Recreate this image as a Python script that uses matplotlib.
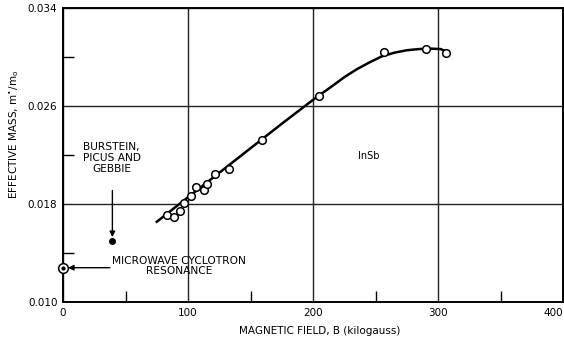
import matplotlib
matplotlib.use("Agg")
import matplotlib.pyplot as plt

# Measured data (InSb effective mass vs magnetic field)
field_kG = [82.8, 89.0, 93.2, 96.4, 102.4, 106.6, 112.5, 115.4, 121.6, 132.5,
            159.0, 204.6, 256.8, 290.2, 306.5]
mass = [0.01708, 0.01694, 0.01745, 0.01806, 0.01865, 0.01941, 0.01912, 0.01961,
        0.02042, 0.02088, 0.02325, 0.02679, 0.03038, 0.03065, 0.03033]

# Hand-drawn fit curve
curve_x = [75, 100, 125, 150, 175, 200, 215, 225, 235, 245, 255, 265, 275, 285, 295, 302, 307]
curve_y = [0.01655, 0.01855, 0.02055, 0.02255, 0.02455, 0.02650, 0.02760, 0.02835,
           0.02900, 0.02955, 0.03005, 0.03035, 0.03055, 0.03065, 0.03068, 0.03065, 0.03045]

# Other measurements
bpg_x, bpg_y = [39.0], [0.0150]
mw_x, mw_y = [0.0], [0.0128]

x_major = [0, 100, 200, 300, 400]
x_minor = [50, 150, 250, 350]
y_major = [0.010, 0.018, 0.026, 0.034]
y_minor = [0.014, 0.022, 0.030]
y_labels = ["0.010", "0.018", "0.026", "0.034"]

plt.rcParams['font.family'] = ['DejaVu Sans']
fig = plt.figure(figsize=(5.64, 3.41), dpi=100)
ax = fig.add_axes([63/564, 1-302/341, 500/564, 294/341])
ax.set_xlim(0, 400)
ax.set_ylim(0.010, 0.034)

ax.set_xticks(x_major)
ax.set_xticklabels([str(v) for v in x_major], fontsize=7.5)
ax.set_yticks(y_major)
ax.set_yticklabels(y_labels, fontsize=7.5)
ax.set_xticks(x_minor, minor=True)
ax.set_yticks(y_minor, minor=True)
ax.tick_params(which='major', length=0, pad=4)
ax.tick_params(which='minor', direction='in', length=8, width=1.0, color='black')
ax.grid(True, which='major', color='#222222', linewidth=1.0)
for s in ax.spines.values():
    s.set_linewidth(1.4)

# last x tick label sits just inside the figure edge
ax.get_xticklabels()[-1].set_horizontalalignment('right')

ax.plot(curve_x, curve_y, color='black', linewidth=1.8, zorder=3)
ax.plot(field_kG, mass, linestyle='none', marker='o', markersize=5.5,
        markerfacecolor='white', markeredgecolor='black', markeredgewidth=1.1, zorder=4)
ax.plot(bpg_x, bpg_y, linestyle='none', marker='o', markersize=4,
        color='black', zorder=4)
ax.plot(mw_x, mw_y, linestyle='none', marker='o', markersize=7,
        markerfacecolor='white', markeredgecolor='black', markeredgewidth=1.1,
        zorder=5, clip_on=False)
ax.plot(mw_x, mw_y, linestyle='none', marker='o', markersize=2,
        color='black', zorder=6, clip_on=False)

ax.annotate('', xy=(39.5, 0.0153), xytext=(39.5, 0.0191),
            arrowprops=dict(arrowstyle='-|>', color='black', lw=1.0,
                            mutation_scale=8, shrinkA=0, shrinkB=0))
ax.annotate('', xy=(4.0, 0.0128), xytext=(37.5, 0.0128),
            arrowprops=dict(arrowstyle='-|>', color='black', lw=1.0,
                            mutation_scale=8, shrinkA=0, shrinkB=0))

ax.text(39, 0.02176, "BURSTEIN,\nPICUS AND\nGEBBIE", ha='center', va='center',
        fontsize=7.7, linespacing=1.12)
ax.text(93, 0.01294, "MICROWAVE CYCLOTRON\nRESONANCE", ha='center', va='center',
        fontsize=7.7, linespacing=1.05)
ax.text(244.5, 0.02192, "InSb", ha='center', va='center', fontsize=7)

ax.set_xlabel("MAGNETIC FIELD, B (kilogauss)", fontsize=7.5)
ax.xaxis.set_label_coords(205/400, -(326-302)/294)
ax.set_ylabel(r"EFFECTIVE MASS, m$^{\bullet}$/m$_{\mathregular{o}}$", fontsize=7.5)
ax.yaxis.set_label_coords(-(63-21)/500, (302-134)/294)

fig.savefig("out.png", dpi=100)
